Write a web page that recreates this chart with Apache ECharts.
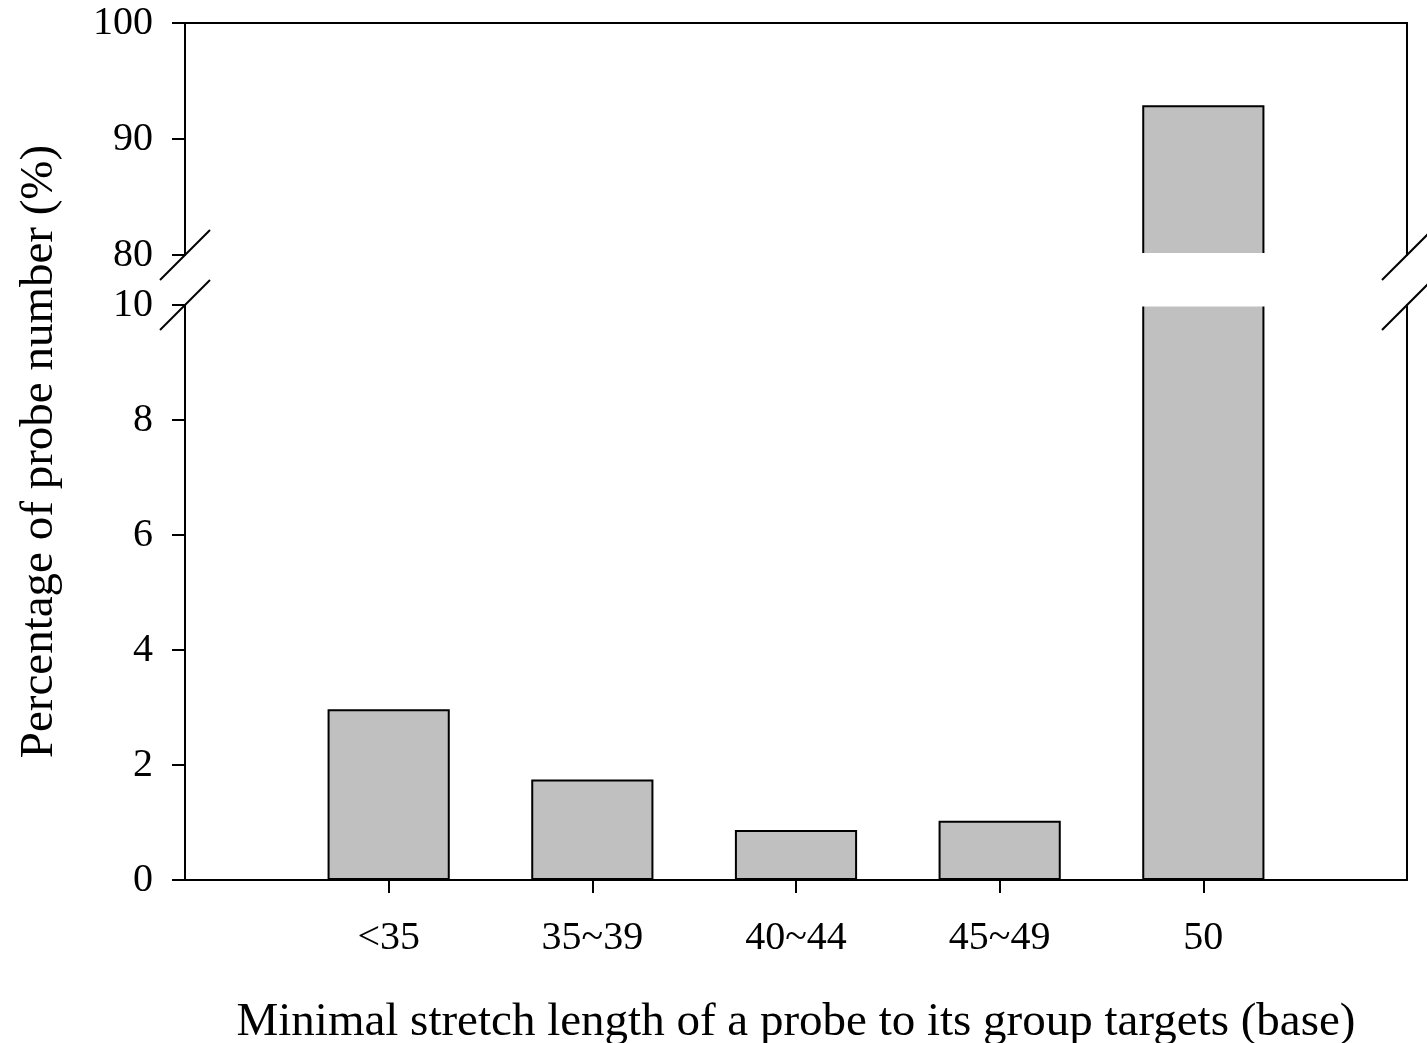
<!DOCTYPE html>
<html>
<head>
<meta charset="utf-8">
<script src="https://cdn.jsdelivr.net/npm/echarts@6/dist/echarts.min.js"></script>
<style>
  html, body { margin: 0; padding: 0; background: #fff; }
  #chart { width: 1427px; height: 1043px; }
</style>
</head>
<body>
<div id="chart"></div>
<script>
// data
const categories = ['<35', '35~39', '40~44', '45~49', '50']
const percentages = [2.97, 1.75, 0.87, 1.03, 92.9]
const topTicks = [80, 90, 100]
const bottomTicks = [0, 2, 4, 6, 8, 10]

// layout
const W = 1427, H = 1043
const plotLeft = 185, plotRight = 1407
const topGridTop = 23, topGridBottom = 255
const botGridTop = 305, botGridBottom = 880
const font = '"Liberation Serif", "Times New Roman", serif'

const chart = echarts.init(document.getElementById('chart'), null, { renderer: 'canvas' })

// pad with an empty slot on each side so bars sit on 1..5 of 0..6
const axisData = [''].concat(categories, [''])
const topData = [null].concat(percentages.map(v => v >= topTicks[0] ? v : null), [null])
const botData = [null].concat(percentages, [null])

const lineStyle = { color: '#000', width: 2 }
const labelStyle = { color: '#000', fontFamily: font, fontSize: 40 }

function breakMark(x, y) {
  return {
    type: 'line', z: 110,
    shape: { x1: x - 25, y1: y + 25, x2: x + 25, y2: y - 25 },
    style: { stroke: '#000', lineWidth: 2 }
  }
}

const options = {
  backgroundColor: '#fff',
  animation: false,
  grid: [
    { left: plotLeft, right: W - plotRight, top: topGridTop, bottom: H - topGridBottom, outerBoundsMode: 'none' },
    { left: plotLeft, right: W - plotRight, top: botGridTop, bottom: H - botGridBottom, outerBoundsMode: 'none' }
  ],
  xAxis: [{
    type: 'category', gridIndex: 0, position: 'top',
    data: axisData, boundaryGap: false,
    axisLine: { lineStyle: lineStyle },
    axisTick: { show: false },
    axisLabel: { show: false },
    splitLine: { show: false }
  }, {
    type: 'category', gridIndex: 1, position: 'bottom',
    data: axisData, boundaryGap: false,
    axisLine: { lineStyle: lineStyle },
    axisTick: {
      length: 13, lineStyle: lineStyle,
      interval: (idx) => idx > 0 && idx < axisData.length - 1
    },
    axisLabel: Object.assign({ margin: 38, interval: 0 }, labelStyle),
    splitLine: { show: false },
    name: 'Minimal stretch length of a probe to its group targets (base)',
    nameLocation: 'middle',
    nameGap: 119,
    nameTextStyle: { color: '#000', fontFamily: font, fontSize: 47 }
  }],
  yAxis: [{
    type: 'value', gridIndex: 0,
    min: topTicks[0], max: topTicks[topTicks.length - 1], interval: topTicks[1] - topTicks[0],
    axisLine: { show: true, lineStyle: lineStyle },
    axisTick: { show: true, length: 13, lineStyle: lineStyle },
    axisLabel: Object.assign({ margin: 32 }, labelStyle),
    splitLine: { show: false }
  }, {
    type: 'value', gridIndex: 1,
    min: bottomTicks[0], max: bottomTicks[bottomTicks.length - 1], interval: bottomTicks[1] - bottomTicks[0],
    axisLine: { show: true, lineStyle: lineStyle },
    axisTick: { show: true, length: 13, lineStyle: lineStyle },
    axisLabel: Object.assign({ margin: 32 }, labelStyle),
    splitLine: { show: false }
  }, {
    type: 'value', gridIndex: 0, position: 'right',
    min: topTicks[0], max: topTicks[topTicks.length - 1],
    axisLine: { show: true, lineStyle: lineStyle },
    axisTick: { show: false }, axisLabel: { show: false }, splitLine: { show: false }
  }, {
    type: 'value', gridIndex: 1, position: 'right',
    min: bottomTicks[0], max: bottomTicks[bottomTicks.length - 1],
    axisLine: { show: true, lineStyle: lineStyle },
    axisTick: { show: false }, axisLabel: { show: false }, splitLine: { show: false }
  }],
  series: [{
    type: 'bar', xAxisIndex: 0, yAxisIndex: 0,
    data: topData, barWidth: '60%',
    itemStyle: { color: '#c0c0c0', borderColor: '#000', borderWidth: 2 }
  }, {
    type: 'bar', xAxisIndex: 1, yAxisIndex: 1,
    data: botData, barWidth: '60%',
    itemStyle: { color: '#c0c0c0', borderColor: '#000', borderWidth: 2 }
  }],
  graphic: [
    // blank out the gap between the two panels (hides clipped bar edges)
    {
      type: 'rect', z: 100,
      shape: { x: plotLeft + 2, y: topGridBottom - 2, width: plotRight - plotLeft - 4, height: botGridTop - topGridBottom + 3.5 },
      style: { fill: '#fff' }
    },
    breakMark(plotLeft, topGridBottom),
    breakMark(plotLeft, botGridTop),
    breakMark(plotRight, topGridBottom),
    breakMark(plotRight, botGridTop),
    {
      type: 'text', z: 110,
      x: 40, y: (topGridTop + botGridBottom) / 2,
      rotation: Math.PI / 2,
      style: {
        text: 'Percentage of probe number (%)',
        fill: '#000', font: '47px ' + font,
        textAlign: 'center', textVerticalAlign: 'middle'
      }
    }
  ]
}

chart.setOption(options)
</script>
</body>
</html>
